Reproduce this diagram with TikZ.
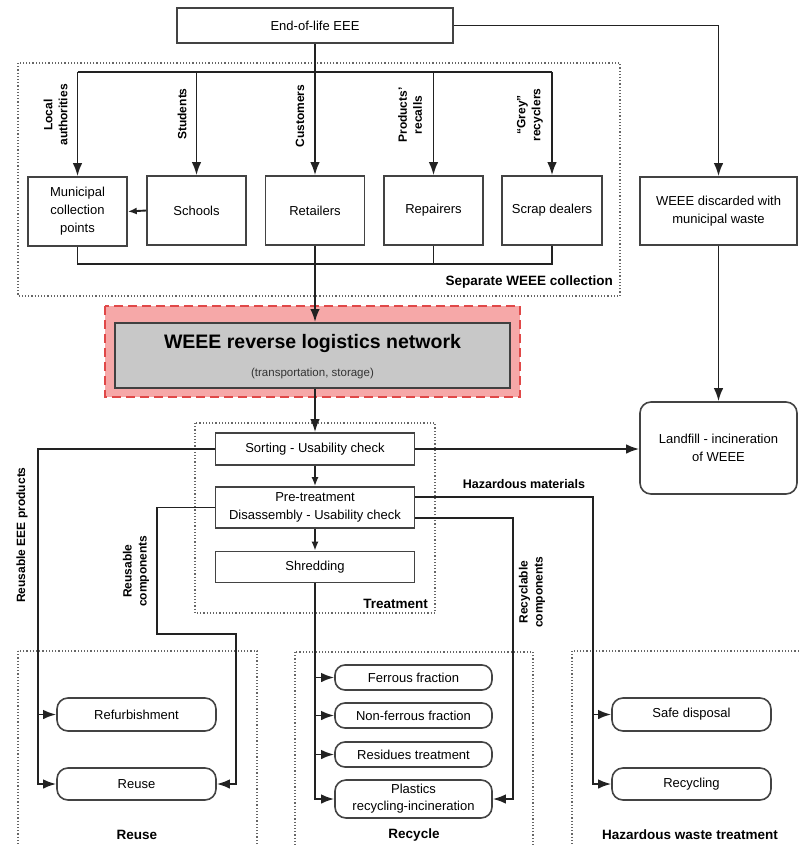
\documentclass[tikz,border=0pt]{standalone}
\usepackage{fontspec}
\setmainfont{Liberation Sans}
\usetikzlibrary{arrows.meta}
\definecolor{pinkfill}{HTML}{F6A8A8}
\definecolor{reddash}{HTML}{E04848}
\definecolor{netgrey}{HTML}{C8C8C8}
\definecolor{linecol}{HTML}{222222}
\begin{document}
\begin{tikzpicture}[x=1pt,y=-1pt,
  txt/.style={font=\fontsize{13}{18}\selectfont},
  box/.style={draw=linecol!85, line width=1.6pt, fill=white, inner sep=1pt, align=center, txt},
  rbox/.style={box, rounded corners=11pt},
  frame/.style={draw=black!60, dotted, line width=1.2pt},
  lab/.style={font=\bfseries\fontsize{12}{15}\selectfont, align=center, rotate=90, inner sep=0pt},
  flab/.style={font=\bfseries\fontsize{13.5}{16}\selectfont, inner sep=0pt},
  ln/.style={draw=linecol, line width=1.9pt},
  arr/.style={ln, -{Latex[length=13pt,width=9.5pt]}},
  sarr/.style={ln, -{Latex[length=9pt,width=7pt]}}
]
\useasboundingbox (0,0) rectangle (798,845);

% frames
\draw[frame] (18,63) rectangle (620,296);
\draw[frame] (195,423) rectangle (435,613);
\draw[frame] (18,651) rectangle (257,852);
\draw[frame] (295,652) rectangle (533,852);
\draw[frame] (572,651) rectangle (806,852);

\node[flab, anchor=east] (fsep) at (613,282) {Separate WEEE collection};
\node[flab, anchor=east] (ftre) at (428,604) {Treatment};
\node[flab] (freu) at (137,835) {Reuse};
\node[flab] (frec) at (414,835) {Recycle};
\node[flab] (fhaz) at (690,835) {Hazardous waste treatment};

% red frame
\draw[draw=reddash, fill=pinkfill, dashed, dash pattern=on 9pt off 5pt, line width=1.8pt] (105,306) rectangle (520,397);

% nodes
\node[box, minimum width=276pt, minimum height=35pt] (eol) at (315,25.5) {End-of-life EEE};
\node[box, minimum width=99pt, minimum height=69pt] (mun) at (77.5,211.5) {Municipal\\collection\\points};
\node[box, minimum width=99pt, minimum height=69pt] (sch) at (196.5,210.5) {Schools};
\node[box, minimum width=99pt, minimum height=69pt] (ret) at (315,210.5) {Retailers};
\node[box, minimum width=99pt, minimum height=69pt] (rep) at (433.5,210.5) {Repairers};
\node[box, minimum width=100pt, minimum height=69pt] (scr) at (552,210.5) {Scrap dealers};
\node[box, minimum width=157pt, minimum height=68pt] (disc) at (718.5,211) {WEEE discarded with\\municipal waste};
\node[box, fill=netgrey, draw=black!75, line width=1.8pt, minimum width=395pt, minimum height=65pt] (net) at (312.5,355.5) {};
\node[font=\bfseries\fontsize{19.5}{24}\selectfont, inner sep=0pt] (nett) at (312.5,343) {WEEE reverse logistics network};
\node[font=\fontsize{11.5}{14}\selectfont, inner sep=0pt, text=black!80] (nets) at (312.5,374) {(transportation, storage)};
\node[rbox, minimum width=157pt, minimum height=92pt] (land) at (718.5,448) {Landfill - incineration\\of WEEE};
\node[box, minimum width=199pt, minimum height=32pt] (sort) at (315,449) {Sorting - Usability check};
\node[box, minimum width=199pt, minimum height=41pt] (pre) at (315,507.5) {Pre-treatment\\Disassembly - Usability check};
\node[box, minimum width=199pt, minimum height=31pt] (shr) at (315,567) {Shredding};
\node[rbox, minimum width=159pt, minimum height=33pt] (refurb) at (136.5,714.5) {Refurbishment};
\node[rbox, minimum width=159pt, minimum height=32pt] (reuse) at (136.5,784) {Reuse};
\node[rbox, minimum width=157pt, minimum height=25pt, rounded corners=10pt] (fer) at (413.5,677.5) {Ferrous fraction};
\node[rbox, minimum width=157pt, minimum height=25pt, rounded corners=10pt] (nonfer) at (413.5,715.5) {Non-ferrous fraction};
\node[rbox, minimum width=157pt, minimum height=25pt, rounded corners=10pt] (res) at (413.5,754.5) {Residues treatment};
\node[rbox, minimum width=157pt, minimum height=38pt, font=\fontsize{13}{17}\selectfont] (pla) at (413.5,799) {Plastics\\recycling-incineration};
\node[rbox, minimum width=159pt, minimum height=33pt] (safe) at (691.5,714.5) {Safe disposal};
\node[rbox, minimum width=159pt, minimum height=32pt] (recyc) at (691.5,784) {Recycling};

% labels
\node[lab] (l1) at (55.5,115) {Local\\authorities};
\node[lab] (l2) at (182,114) {Students};
\node[lab] (l3) at (300,116) {Customers};
\node[lab] (l4) at (410,115) {Products’\\recalls};
\node[lab] (l5) at (530,115) {“Grey”\\recyclers};
\node[lab] (l6) at (22,535) {Reusable EEE products};
\node[lab] (l7) at (136,571) {Reusable\\components};
\node[lab] (l8) at (532,592) {Recyclable\\components};
\node[font=\bfseries\fontsize{12.5}{15}\selectfont, inner sep=0pt] (l9) at (524,484) {Hazardous materials};

% coordinates
\coordinate (dl) at (77.5,72);
\coordinate (cb) at (0,264);
\coordinate (ra) at (38,449);
\coordinate (k1) at (157,634);
\coordinate (k2) at (236,634);
\coordinate (h1) at (593,497);
\coordinate (r1) at (513,518);
\coordinate (tr) at (315,0);

% top distribution
\draw[ln] (mun.north |- dl) -- (scr.north |- dl);
\draw[arr] (eol.south) -- (ret.north);
\draw[arr] (mun.north |- dl) -- (mun.north);
\draw[arr] (sch.north |- dl) -- (sch.north);
\draw[arr] (rep.north |- dl) -- (rep.north);
\draw[arr] (scr.north |- dl) -- (scr.north);
\draw[sarr] (sch.west) -- (mun.east);

% collection lines
\draw[ln] (mun.south) -- (mun.south |- cb) -- (scr.south |- cb) -- (scr.south);
\draw[ln] (rep.south) -- (rep.south |- cb);
\draw[arr] (ret.south) -- (ret.south |- net.north);

% municipal waste path
\draw[arr] (eol.east) -| (disc.north);
\draw[arr] (disc.south) -- (land.north);

% network to treatment
\draw[arr] (net.south -| tr) -- (sort.north);
\draw[arr] (sort.east) -- (sort.east -| land.west);
\draw[sarr] (sort.south) -- (pre.north);
\draw[sarr] (pre.south) -- (shr.north);

% reuse
\draw[arr] (sort.west) -- (ra) |- (reuse.west);
\draw[arr] (ra |- refurb.west) -- (refurb.west);
\draw[arr] (pre.west) -| (k1) -- (k2) |- (reuse.east);

% hazardous
\draw[arr] (pre.east |- h1) -- (h1) |- (recyc.west);
\draw[arr] (h1 |- safe.west) -- (safe.west);

% recyclable
\draw[arr] (pre.east |- r1) -- (r1) |- (pla.east);

% shredding trunk
\draw[arr] (shr.south) -- (shr.south |- pla.west) -- (pla.west);
\draw[arr] (shr.south |- fer.west) -- (fer.west);
\draw[arr] (shr.south |- nonfer.west) -- (nonfer.west);
\draw[arr] (shr.south |- res.west) -- (res.west);
\end{tikzpicture}
\end{document}
